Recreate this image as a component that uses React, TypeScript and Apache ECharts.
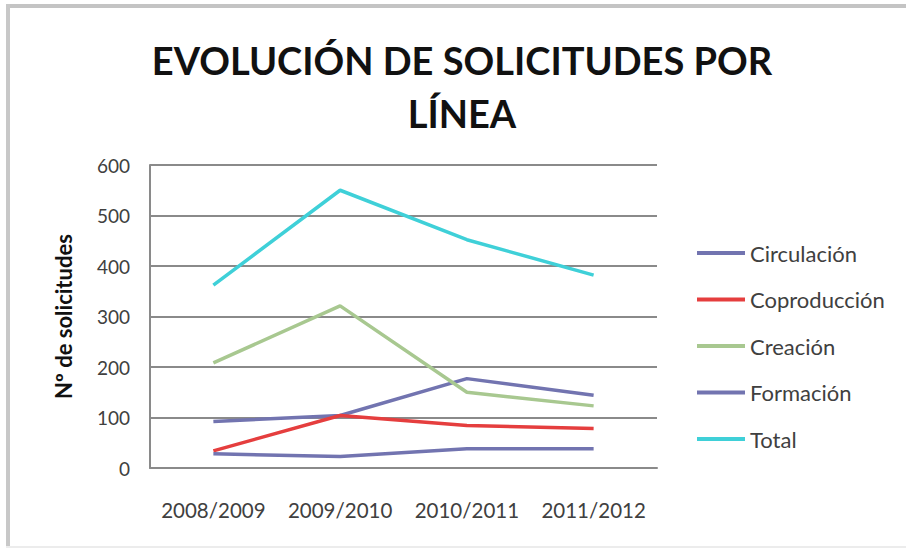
import React, { useEffect, useRef } from "react";
import * as echarts from "echarts";

const categories = ["2008/2009", "2009/2010", "2010/2011", "2011/2012"];
const circulacion = [92, 104, 177, 144];
const coproduccion = [34, 104, 84, 78];
const creacion = [208, 321, 150, 123];
const formacion = [28, 23, 38, 38];
const total = [362, 550, 452, 382];
const yTicks = [0, 100, 200, 300, 400, 500, 600];

const FONT = "Lato, 'Noto Sans', sans-serif";

export default function App() {
  const ref = useRef<HTMLDivElement>(null);
  useEffect(() => {
    if (!ref.current) return;
    const chart = echarts.init(ref.current, undefined, { renderer: "svg" });
    const mk = (name: string, data: number[], color: string) => ({
      name,
      type: "line",
      data,
      symbol: "none",
      showSymbol: false,
      lineStyle: { color, width: 3.5 },
      itemStyle: { color },
    });
    chart.setOption({
      animation: false,
      backgroundColor: "#ffffff",
      textStyle: { fontFamily: FONT },
      graphic: [
        { type: "rect", shape: { x: 6, y: 4, width: 900, height: 4 }, style: { fill: "#c4c4c4" } },
        { type: "rect", shape: { x: 6, y: 4, width: 4, height: 544 }, style: { fill: "#c8c8c8" } },
        { type: "rect", shape: { x: 6, y: 546, width: 900, height: 2 }, style: { fill: "#ececec" } },
        {
          type: "text",
          x: 462,
          y: 60,
          style: {
            text: "EVOLUCIÓN DE SOLICITUDES POR",
            font: "bold 38px " + FONT,
            fill: "#111111",
            align: "center",
            verticalAlign: "middle",
          },
        },
        {
          type: "text",
          x: 462,
          y: 113,
          style: {
            text: "LÍNEA",
            font: "bold 38px " + FONT,
            fill: "#111111",
            align: "center",
            verticalAlign: "middle",
          },
        },
      ],
      legend: {
        orient: "vertical",
        left: 692,
        top: 237,
        icon: "rect",
        itemWidth: 48,
        itemHeight: 4,
        itemGap: 24.5,
        textStyle: { fontFamily: FONT, fontSize: 22, color: "#404040", lineHeight: 22 },
        data: ["Circulación", "Coproducción", "Creación", "Formación", "Total"],
      },
      grid: { left: 150, right: 249, top: 165, bottom: 80, containLabel: false },
      xAxis: {
        type: "category",
        data: categories,
        boundaryGap: true,
        axisLine: { show: true, lineStyle: { color: "#8a8a8a", width: 2 } },
        axisTick: { show: false },
        axisLabel: { fontFamily: FONT, fontSize: 20.5, color: "#404040", margin: 31, interval: 0 },
      },
      yAxis: {
        type: "value",
        min: 0,
        max: 600,
        interval: 100,
        name: "Nº de solicitudes",
        nameLocation: "middle",
        nameGap: 76,
        nameTextStyle: { fontFamily: FONT, fontSize: 22, fontWeight: "bold", color: "#111111" },
        axisLine: { show: true, lineStyle: { color: "#8a8a8a", width: 2 } },
        axisTick: { show: false },
        axisLabel: {
          fontFamily: FONT,
          fontSize: 19,
          color: "#404040",
          margin: 20,
          formatter: (v: number) => (yTicks.includes(v) ? String(v) : ""),
        },
        splitLine: { show: true, lineStyle: { color: "#8a8a8a", width: 2 } },
      },
      series: [
        mk("Circulación", circulacion, "#7274b0"),
        mk("Coproducción", coproduccion, "#e53e3e"),
        mk("Creación", creacion, "#a8c890"),
        mk("Formación", formacion, "#7274b0"),
        mk("Total", total, "#3fd0d8"),
      ],
    });
    return () => chart.dispose();
  }, []);
  return (
    <div
      ref={ref}
      style={{ position: "absolute", left: 0, top: 0, width: 906, height: 548 }}
    />
  );
}
